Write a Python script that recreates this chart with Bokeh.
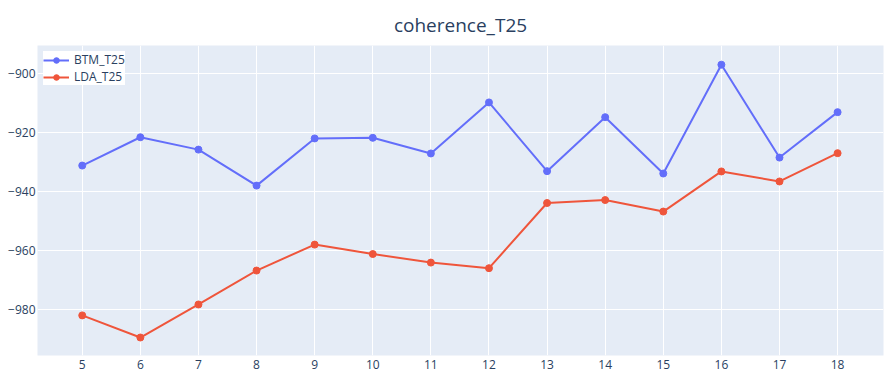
from bokeh.plotting import figure
from bokeh.models import FixedTicker, Range1d, Legend, LegendItem
from bokeh.embed import file_html
from bokeh.resources import INLINE

topics = [5, 6, 7, 8, 9, 10, 11, 12, 13, 14, 15, 16, 17, 18]
btm_t25 = [-931.2, -921.6, -925.8, -938.0, -922.0, -921.8, -927.1, -909.8,
           -933.1, -914.8, -933.9, -897.0, -928.5, -913.1]
lda_t25 = [-982.0, -989.5, -978.3, -966.8, -958.0, -961.2, -964.1, -966.0,
           -943.9, -942.9, -946.8, -933.2, -936.6, -927.0]
y_ticks = [-980, -960, -940, -920, -900]
y_tick_labels = ["\u2212980", "\u2212960", "\u2212940", "\u2212920", "\u2212900"]
series_names = ["BTM_T25", "LDA_T25"]
colors = ["#636efa", "#EF553B"]
title_text = "coherence_T25"

FONT = "Open Sans"
TXT = "#2a3f5f"

p = figure(output_backend="svg", toolbar_location=None,
           frame_width=846, frame_height=310,
           min_border_left=37, min_border_top=45, min_border_right=8,
           min_border_bottom=25,
           x_range=Range1d(4.23, 18.79), y_range=Range1d(-995.6, -890.5))

p.background_fill_color = "#E5ECF6"
p.border_fill_color = "white"
p.outline_line_color = None

p.title.text = title_text
p.title.align = "center"
p.title.text_font = FONT
p.title.text_font_size = "19px"
p.title.text_font_style = "normal"
p.title.text_color = TXT
p.title.offset = 0
p.title.standoff = 15

for ax in (p.xaxis[0], p.yaxis[0]):
    ax.axis_line_color = None
    ax.major_tick_line_color = None
    ax.minor_tick_line_color = None
    ax.major_tick_out = 0
    ax.major_tick_in = 0
    ax.major_label_text_font = FONT
    ax.major_label_text_font_size = "12px"
    ax.major_label_text_color = TXT

p.xaxis[0].ticker = FixedTicker(ticks=topics)
p.xaxis[0].major_label_standoff = 4
p.yaxis[0].ticker = FixedTicker(ticks=y_ticks)
p.yaxis[0].major_label_overrides = {t: l for t, l in zip(y_ticks, y_tick_labels)}
p.yaxis[0].major_label_standoff = 2

p.grid.grid_line_color = "white"
p.grid.grid_line_width = 1
p.xgrid.ticker = FixedTicker(ticks=topics)
p.ygrid.ticker = FixedTicker(ticks=y_ticks)

items = []
for name, vals, c in zip(series_names, [btm_t25, lda_t25], colors):
    l = p.line(topics, vals, line_color=c, line_width=2)
    s = p.scatter(topics, vals, size=7, fill_color=c, line_color=c)
    items.append(LegendItem(label=name, renderers=[l, s]))

legend = Legend(items=items, location="top_left")
legend.background_fill_color = "white"
legend.background_fill_alpha = 1
legend.border_line_color = None
legend.label_text_font = FONT
legend.label_text_font_size = "12px"
legend.label_text_color = TXT
legend.glyph_width = 26
legend.glyph_height = 14
legend.label_height = 14
legend.spacing = 0
legend.padding = 5
legend.margin = 6
legend.label_standoff = 5
p.add_layout(legend)

open("out.html", "w").write(file_html(p, INLINE))
